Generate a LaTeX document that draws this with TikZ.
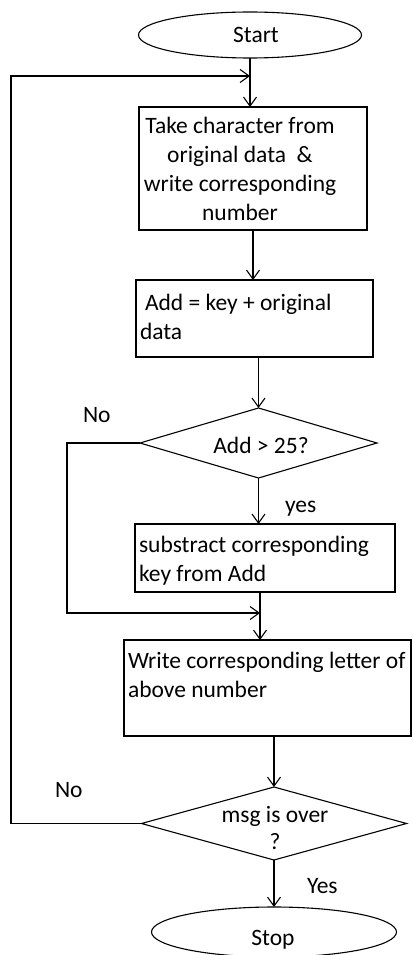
\documentclass[tikz,border=0pt]{standalone}
\usepackage{fontspec}
\setmainfont{Carlito}
\usetikzlibrary{arrows.meta,shapes.geometric}
\begin{document}
\begin{tikzpicture}[x=1pt,y=-1pt,
  line width=1.1pt,
  every node/.style={inner sep=0pt, outer sep=0pt},
  txt/.style={font=\fontsize{23.5}{29}\selectfont, text=black},
  procbox/.style={draw, rectangle},
  oval/.style={draw, ellipse},
  decision/.style={draw, diamond},
  arr/.style={-{Straight Barb[length=9pt,width=13pt,line width=1.1pt]}}
]
\useasboundingbox (0,0) rectangle (412,955);
\fill[white] (0,0) rectangle (412,955);

% shapes
\node[oval, minimum width=223pt, minimum height=46pt] (start) at (250,35) {};
\node[procbox, minimum width=228pt, minimum height=123pt] (b1) at (253,168.5) {};
\node[procbox, minimum width=237pt, minimum height=77pt] (b2) at (254.5,318.5) {};
\node[decision, minimum width=237pt, minimum height=70pt] (d1) at (258.5,443) {};
\node[procbox, minimum width=260pt, minimum height=68pt] (b3) at (265,558) {};
\node[procbox, minimum width=287pt, minimum height=96pt] (b4) at (267.5,688) {};
\node[decision, minimum width=265pt, minimum height=73pt] (d2) at (274,823.5) {};
\node[oval, minimum width=245pt, minimum height=50pt] (stop) at (274,932) {};

% texts (multi-line nodes: base = baseline of last line)
\node[txt, anchor=base] (tstart) at (256,43) {Start};
\node[txt, anchor=base, align=center] (t1) at (240,220) {Take character from\\original data\ \ \&\\write corresponding\\number};
\node[txt, anchor=base west, align=left] (t2) at (140,339) {\hspace{5pt}Add = key + original\\data};
\node[txt, anchor=base] (td1) at (261,453) {Add > 25?};
\node[txt, anchor=base west, align=left] (t3) at (139,581) {substract corresponding\\key from Add};
\node[txt, anchor=base west, align=left] (t4) at (128,697) {Write corresponding letter of\\above number};
\node[txt, anchor=base, align=center, font=\fontsize{23.5}{27}\selectfont] (td2) at (275,849) {msg is over\\?};
\node[txt, anchor=base] (tstop) at (273,945) {Stop};

% labels
\node[txt, anchor=base west] (lno1) at (83,422) {No};
\node[txt, anchor=base west] (lyes1) at (285,512) {yes};
\node[txt, anchor=base west] (lno2) at (55,797) {No};
\node[txt, anchor=base west] (lyes2) at (307,893) {Yes};

% junction coordinates
\coordinate (j1) at (250,76);
\coordinate (lx) at (11,76);
\coordinate (j2) at (260,613);
\coordinate (nx) at (67,613);

% connectors
\draw[arr] (start.south) -- (start.south |- b1.north);
\draw[arr] (d2.west) -| (lx) -- (j1);
\draw[arr] (b1.south) -- (b1.south |- b2.north);
\draw[arr] (d1.north |- b2.south) -- (d1.north);
\draw[arr] (d1.south) -- (d1.south |- b3.north);
\draw[arr] (d1.west) -| (nx) -- (j2);
\draw[arr] (j2 |- b3.south) -- (j2 |- b4.north);
\draw[arr] (d2.north |- b4.south) -- (d2.north);
\draw[arr] (d2.south) -- (d2.south |- stop.north);
\end{tikzpicture}
\end{document}
